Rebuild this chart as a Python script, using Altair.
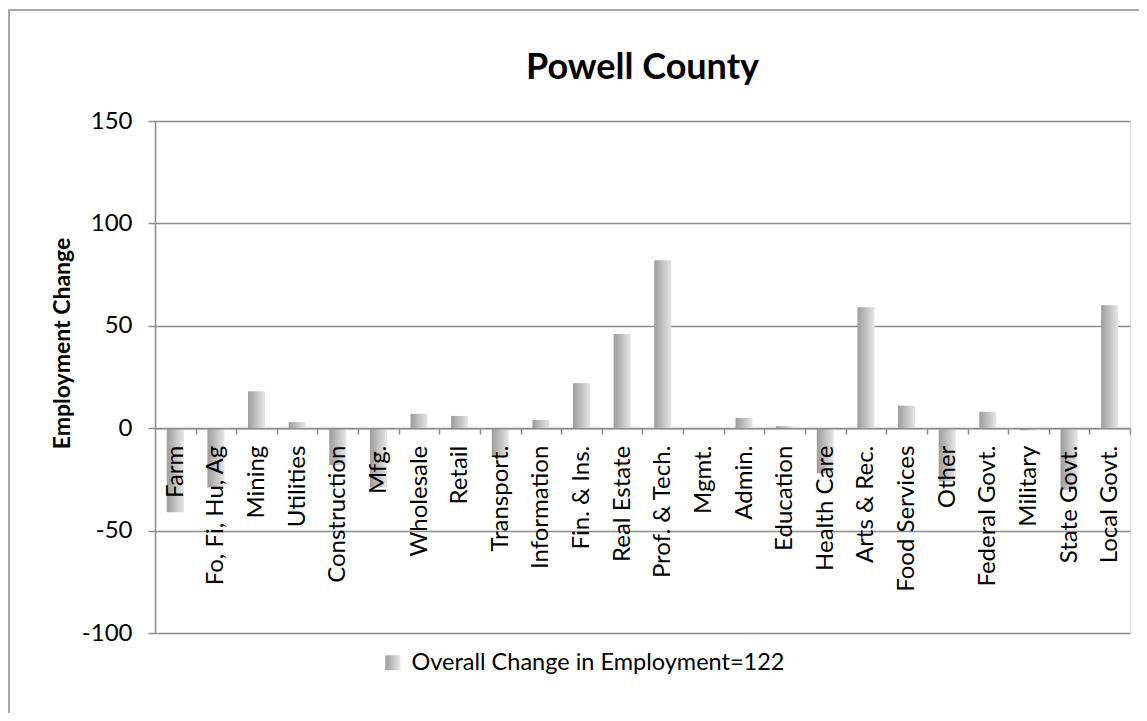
import altair as alt
import pandas as pd

categories = ["Farm", "Fo, Fi, Hu, Ag", "Mining", "Utilities", "Construction", "Mfg.",
              "Wholesale", "Retail", "Transport.", "Information", "Fin. & Ins.",
              "Real Estate", "Prof. & Tech.", "Mgmt.", "Admin.", "Education",
              "Health Care", "Arts & Rec.", "Food Services", "Other", "Federal Govt.",
              "Military", "State Govt.", "Local Govt."]
changes = [-41, -29, 18, 3, -18, -29, 7, 6, -14, 4, 22, 46, 82, 0, 5, 1, -22, 59,
           11, -26, 8, -1, -30, 60]
series_name = "Overall Change in Employment=122"
y_ticks = [-100, -50, 0, 50, 100, 150]

df = pd.DataFrame({"sector": categories, "change": changes, "series": series_name})

W, H = 975, 512
step = W / len(categories)
zero_offset = -H * 100 / 250

grad = alt.Gradient(
    gradient="linear",
    stops=[alt.GradientStop(color="#9c9c9c", offset=0),
           alt.GradientStop(color="#e6e6e6", offset=1)],
    x1=0, x2=1, y1=0, y2=0,
)

FONT = "Lato"
GRAY = "#8c8c8c"

bars = alt.Chart(df).mark_bar(color=grad).encode(
    x=alt.X(
        "sector:N", sort=categories,
        scale=alt.Scale(paddingInner=0.58, paddingOuter=0.29),
        axis=alt.Axis(
            title=None, labelAngle=-90, labelAlign="right", labelBaseline="middle",
            offset=zero_offset, tickOffset=step / 2, labelOffset=-step / 2,
            labelFont=FONT, labelFontSize=24, labelColor="black", labelPadding=11,
            labelOverlap=False, labelLimit=400, zindex=1,
            tickSize=6, tickColor=GRAY, tickWidth=1.5,
            domainColor=GRAY, domainWidth=1.5, grid=False,
        ),
    ),
    y=alt.Y(
        "change:Q",
        scale=alt.Scale(domain=[-100, 150], nice=False),
        axis=alt.Axis(
            values=y_ticks, title="Employment Change", labelExpr="'' + datum.value",
            titleFont=FONT, titleFontSize=23, titleFontWeight="bold", titleColor="black",
            titleAngle=-90, titleX=-93, titleY=222, titleAlign="center", titleBaseline="middle",
            labelFont=FONT, labelFontSize=24, labelColor="black", labelPadding=16,
            tickSize=7, tickColor=GRAY, tickWidth=1.5,
            domainColor=GRAY, domainWidth=1.5,
            grid=True, gridColor=GRAY, gridWidth=1.5,
        ),
    ),
    opacity=alt.Opacity(
        "series:N", scale=alt.Scale(range=[1]),
        legend=alt.Legend(
            title=None, orient="none", legendX=226, legendY=530, padding=0,
            symbolType="square", symbolFillColor="#b8b8b8", symbolStrokeWidth=0,
            symbolSize=225, labelFont=FONT, labelFontSize=23.5, labelColor="black",
            labelOffset=7, labelLimit=600,
        ),
    ),
)

border = alt.Chart(pd.DataFrame({"k": [0]})).mark_rect(
    filled=False, stroke=GRAY, strokeWidth=1.5
).encode(
    x=alt.value(-146), x2=alt.value(1400), y=alt.value(-111), y2=alt.value(900)
)

chart = alt.layer(border, bars).properties(
    width=W, height=H,
    title=alt.TitleParams("Powell County", font=FONT, fontSize=36, fontWeight="bold",
                          color="black", anchor="middle", frame="group", offset=-78),
    autosize=alt.AutoSizeParams(type="none"),
    padding={"left": 147, "top": 113, "right": 9, "bottom": 80},
).configure_view(stroke=None).configure(background="white")

chart.save("out.html", embed_options={"renderer": "svg", "actions": False})
